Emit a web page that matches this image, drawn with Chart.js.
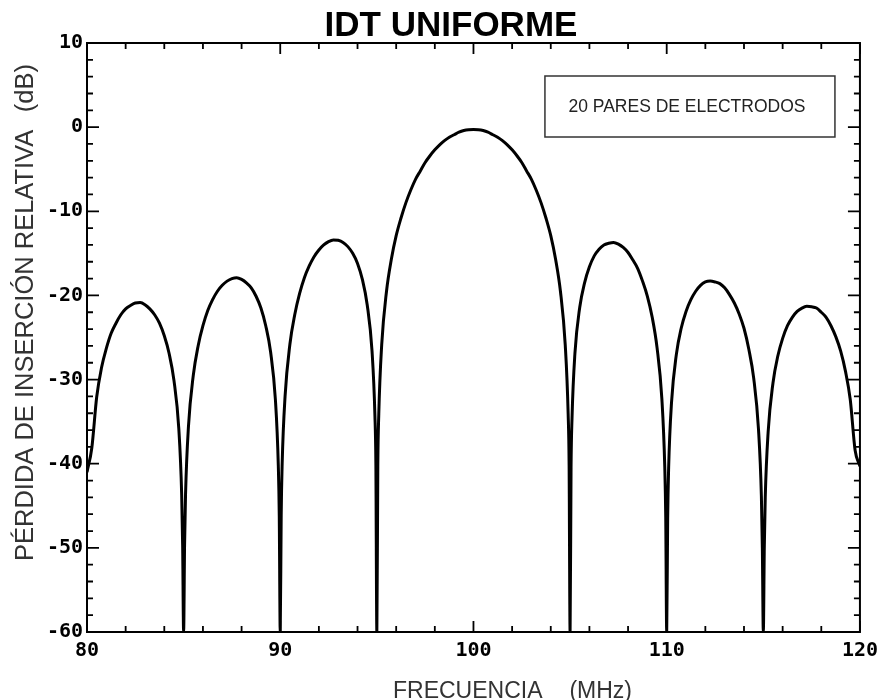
<!DOCTYPE html>
<html><head><meta charset="utf-8">
<script src="https://cdn.jsdelivr.net/npm/chart.js@4"></script>
<style>html,body{margin:0;padding:0;background:#fff;}canvas{display:block;}</style>
</head><body>
<canvas id="c" width="885" height="700"></canvas>
<script>
const chartTitle = 'IDT UNIFORME';
const xAxisLabel = 'FRECUENCIA';
const xAxisUnit = '(MHz)';
const yAxisLabel = 'PÉRDIDA DE INSERCIÓN RELATIVA';
const yAxisUnit = '(dB)';
const legendText = '20 PARES DE ELECTRODOS';

const xTickLabels = [80, 90, 100, 110, 120];
const yTickLabels = [10, 0, -10, -20, -30, -40, -50, -60];

const freqMHz = [
  80, 80.25, 80.5, 80.75, 81, 81.25, 81.5, 81.75, 82, 82.25, 82.5, 82.75, 83, 83.25, 83.5, 83.75, 84, 84.25, 84.5, 84.75, 84.9, 84.95,
  85, 85.05, 85.1, 85.25, 85.5, 85.75, 86, 86.25, 86.5, 86.75, 87, 87.25, 87.5, 87.75, 88, 88.25, 88.5, 88.75, 89, 89.25, 89.5, 89.75, 89.9, 89.95,
  90, 90.05, 90.1, 90.25, 90.5, 90.75, 91, 91.25, 91.5, 91.75, 92, 92.25, 92.5, 92.75, 93, 93.25, 93.5, 93.75, 94, 94.25, 94.5, 94.75, 94.9, 94.95,
  95, 95.05, 95.1, 95.25, 95.5, 95.75, 96, 96.25, 96.5, 96.75, 97, 97.25, 97.5, 97.75, 98, 98.25, 98.5, 98.75, 99, 99.25, 99.5, 99.75,
  100, 100.25, 100.5, 100.75, 101, 101.25, 101.5, 101.75, 102, 102.25, 102.5, 102.75, 103, 103.25, 103.5, 103.75, 104, 104.25, 104.5, 104.75, 104.9, 104.95,
  105, 105.05, 105.1, 105.25, 105.5, 105.75, 106, 106.25, 106.5, 106.75, 107, 107.25, 107.5, 107.75, 108, 108.25, 108.5, 108.75, 109, 109.25, 109.5, 109.75, 109.9, 109.95,
  110, 110.05, 110.1, 110.25, 110.5, 110.75, 111, 111.25, 111.5, 111.75, 112, 112.25, 112.5, 112.75, 113, 113.25, 113.5, 113.75, 114, 114.25, 114.5, 114.75, 114.9, 114.95,
  115, 115.05, 115.1, 115.25, 115.5, 115.75, 116, 116.25, 116.5, 116.75, 117, 117.25, 117.5, 117.75, 118, 118.25, 118.5, 118.75, 119, 119.25, 119.5, 119.75, 120
];
const lossDb = [
  -41.0, -38.1, -32.1, -28.6, -26.3, -24.5, -23.3, -22.3, -21.6, -21.2, -20.9, -20.85, -21.1, -21.6, -22.3, -23.3, -24.8, -26.9, -30.1, -35.8, -43.7, -49.7,
  -60, -49.6, -43.6, -35.6, -29.5, -26.0, -23.6, -21.8, -20.5, -19.5, -18.8, -18.3, -18.0, -17.9, -18.1, -18.5, -19.1, -20.1, -21.5, -23.6, -26.7, -32.4, -40.2, -46.2,
  -60, -46.1, -40.0, -32.0, -25.8, -22.3, -19.8, -17.9, -16.5, -15.4, -14.6, -14.0, -13.6, -13.4, -13.45, -13.7, -14.2, -15.0, -16.2, -18.1, -21.1, -26.6, -34.3, -40.2,
  -60, -40.2, -34.1, -25.9, -19.5, -15.7, -12.9, -10.8, -9.0, -7.5, -6.2, -5.2, -4.2, -3.4, -2.7, -2.1, -1.6, -1.2, -0.9, -0.6, -0.4, -0.3,
  -0.28, -0.3, -0.4, -0.6, -0.9, -1.2, -1.6, -2.1, -2.7, -3.4, -4.2, -5.2, -6.2, -7.5, -9.0, -10.8, -12.9, -15.7, -19.5, -25.9, -34.1, -40.2,
  -60, -40.5, -34.6, -26.9, -21.4, -18.5, -16.6, -15.3, -14.5, -14.0, -13.8, -13.7, -13.9, -14.3, -14.9, -15.8, -16.8, -18.3, -20.1, -22.6, -26.2, -32.3, -40.4, -46.4,
  -60, -46.5, -40.5, -32.7, -27.0, -23.9, -21.9, -20.5, -19.5, -18.8, -18.4, -18.3, -18.4, -18.6, -19.1, -19.9, -20.9, -22.2, -23.9, -26.4, -29.8, -35.9, -43.9, -50.0,
  -60, -50.0, -44.0, -36.2, -30.4, -27.2, -25.1, -23.6, -22.6, -21.9, -21.5, -21.3, -21.35, -21.5, -22.0, -22.6, -23.6, -24.9, -26.6, -29.0, -32.4, -38.4, -40.3
];

const tickFont = { family: "'DejaVu Sans Mono', monospace", size: 20, weight: 'bold' };

const decorPlugin = {
  id: 'decor',
  afterDatasetsDraw(chart) {
    const { ctx, chartArea: a, scales: { x, y } } = chart;
    ctx.save();
    // frame
    ctx.strokeStyle = '#000';
    ctx.lineWidth = 2;
    ctx.strokeRect(a.left, a.top, a.right - a.left, a.bottom - a.top);
    // inward ticks on all four sides
    ctx.lineWidth = 1.8;
    ctx.beginPath();
    x.ticks.forEach(t => {
      const px = x.getPixelForValue(t.value);
      const len = xTickLabels.includes(t.value) ? 11 : 6;
      ctx.moveTo(px, a.bottom); ctx.lineTo(px, a.bottom - len);
      ctx.moveTo(px, a.top); ctx.lineTo(px, a.top + len);
    });
    y.ticks.forEach(t => {
      const py = y.getPixelForValue(t.value);
      const len = yTickLabels.includes(t.value) ? 12 : 6;
      ctx.moveTo(a.left, py); ctx.lineTo(a.left + len, py);
      ctx.moveTo(a.right, py); ctx.lineTo(a.right - len, py);
    });
    ctx.stroke();

    // title
    ctx.fillStyle = '#000';
    ctx.font = "bold 35px 'Liberation Sans', Arial, sans-serif";
    ctx.textAlign = 'center';
    ctx.textBaseline = 'middle';
    ctx.fillText(chartTitle, 451, 26);

    // legend box
    const bx = a.right - 315, by = a.top + 33, bw = 290, bh = 61;
    ctx.strokeStyle = '#333';
    ctx.lineWidth = 1.5;
    ctx.strokeRect(bx, by, bw, bh);
    ctx.fillStyle = '#222';
    ctx.font = "17.5px 'Liberation Sans', Arial, sans-serif";
    ctx.textAlign = 'center';
    ctx.textBaseline = 'middle';
    ctx.fillText(legendText, bx + bw / 2 - 3, by + bh / 2 + 1);

    // x axis title
    ctx.fillStyle = '#333';
    ctx.font = "23px 'Liberation Sans', Arial, sans-serif";
    ctx.textBaseline = 'alphabetic';
    ctx.textAlign = 'left';
    ctx.fillText(xAxisLabel, 393, 698);
    ctx.textAlign = 'right';
    ctx.fillText(xAxisUnit, 632, 698);

    // y axis title
    ctx.font = "25.5px 'Liberation Sans', Arial, sans-serif";
    ctx.save();
    ctx.translate(33, 561);
    ctx.rotate(-Math.PI / 2);
    ctx.textAlign = 'left';
    ctx.fillText(yAxisLabel, 0, 0);
    ctx.restore();
    ctx.save();
    ctx.translate(33, 64);
    ctx.rotate(-Math.PI / 2);
    ctx.textAlign = 'right';
    ctx.fillText(yAxisUnit, 0, 0);
    ctx.restore();

    ctx.restore();
  }
};

new Chart(document.getElementById('c'), {
  type: 'line',
  data: {
    datasets: [{
      label: 'Pérdida de inserción',
      data: freqMHz.map((f, i) => ({ x: f, y: lossDb[i] })),
      borderColor: '#000',
      borderWidth: 3,
      pointRadius: 0,
      fill: false,
      cubicInterpolationMode: 'monotone'
    }]
  },
  options: {
    responsive: false,
    animation: false,
    devicePixelRatio: 1,
    layout: { padding: { left: 0, right: 22, top: 43, bottom: 0 } },
    plugins: { legend: { display: false }, title: { display: false }, tooltip: { enabled: false } },
    scales: {
      x: {
        type: 'linear', min: 80, max: 120,
        grid: { display: false, drawTicks: false },
        border: { display: false },
        afterFit: s => { s.height = 68; },
        ticks: {
          stepSize: 2, autoSkip: false, maxRotation: 0, padding: 7,
          color: '#000', font: tickFont,
          callback: v => xTickLabels.includes(v) ? String(v) : ''
        }
      },
      y: {
        type: 'linear', min: -60, max: 10,
        grid: { display: false, drawTicks: false },
        border: { display: false },
        afterFit: s => { s.width = 87; },
        ticks: {
          stepSize: 2, autoSkip: false, padding: 4,
          color: '#000', font: tickFont,
          callback: v => yTickLabels.includes(v) ? String(v) : ''
        }
      }
    }
  },
  plugins: [decorPlugin]
});
</script>
</body></html>
